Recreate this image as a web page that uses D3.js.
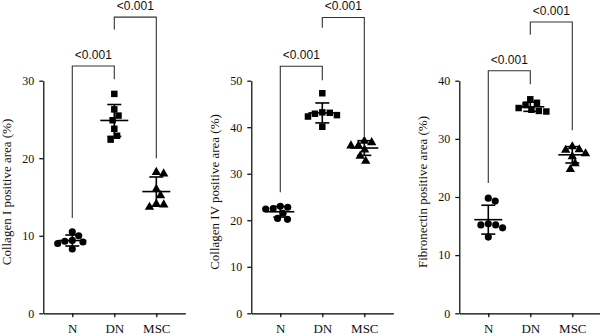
<!DOCTYPE html>
<html><head><meta charset="utf-8">
<script src="https://cdn.jsdelivr.net/npm/d3@7"></script>
<style>
html,body{margin:0;padding:0;background:#fff;}
svg{display:block;}
</style>
</head><body>
<svg id="chart" width="600" height="335"></svg>
<script>
// ---- data ----
const categories = ["N", "DN", "MSC"];
const shapes = ["circle", "square", "triangle"];

const yLabels = ["Collagen I positive area (%)", "Collagen IV positive area (%)", "Fibronectin positive area (%)"];
const yMaxes = [30, 50, 40];
const yTicks1 = [0, 10, 20, 30];
const yTicks2 = [0, 10, 20, 30, 40, 50];
const yTicks3 = [0, 10, 20, 30, 40];

const collagenI_N   = [10.0, 10.5, 9.2, 9.4, 9.0, 9.3, 8.3];
const collagenI_DN  = [28.3, 26.3, 25.5, 24.9, 23.8, 22.9, 22.4];
const collagenI_MSC = [18.1, 18.3, 16.1, 15.3, 13.8, 14.2, 14.1];

const collagenIV_N   = [23.0, 22.8, 22.4, 21.5, 20.2, 20.4, 22.5];
const collagenIV_DN  = [47.3, 43.1, 42.9, 42.3, 43.2, 40.1, 42.6];
const collagenIV_MSC = [36.2, 37.2, 36.9, 36.2, 35.3, 34.0, 32.9];

const fibronectin_N   = [19.3, 19.8, 15.4, 15.2, 15.2, 14.7, 13.1];
const fibronectin_DN  = [36.8, 36.2, 35.8, 35.0, 34.8, 34.7, 35.3];
const fibronectin_MSC = [28.8, 28.2, 28.3, 27.6, 27.1, 25.9, 24.9];

// significance brackets: [fromCategory, toCategory, top, leftLegEnd, rightLegEnd, label]
const brackets1 = [["N", "DN", 31.9, 12.3, 30.2, "<0.001"], ["DN", "MSC", 38.2, 36.6, 20.0, "<0.001"]];
const brackets2 = [["N", "DN", 53.1, 26.0, 50.1, "<0.001"], ["DN", "MSC", 63.6, 61.4, 38.1, "<0.001"]];
const brackets3 = [["N", "DN", 41.7, 22.4, 39.4, "<0.001"], ["DN", "MSC", 50.1, 47.9, 31.5, "<0.001"]];

const panels = [
  {label: yLabels[0], max: yMaxes[0], ticks: yTicks1, groups: [collagenI_N, collagenI_DN, collagenI_MSC], brackets: brackets1},
  {label: yLabels[1], max: yMaxes[1], ticks: yTicks2, groups: [collagenIV_N, collagenIV_DN, collagenIV_MSC], brackets: brackets2},
  {label: yLabels[2], max: yMaxes[2], ticks: yTicks3, groups: [fibronectin_N, fibronectin_DN, fibronectin_MSC], brackets: brackets3}
];

// ---- layout ----
const svg = d3.select("#chart");
const panelLeft0 = 43.3, panelStep = 208;
const plotTop = 80.7, plotBottom = 313.3, xAxisLen = 142;
const serif = "'Liberation Serif', 'Times New Roman', serif";
const sans = "'Liberation Sans', Arial, sans-serif";

const symbolTypes = {circle: d3.symbolCircle, square: d3.symbolSquare, triangle: d3.symbolTriangle};
const symbolSizes = {circle: 40, square: 42, triangle: 38};

function swarm(values, y, d) {
  const pts = values.map(v => ({v, y: y(v), x: 0})).sort((a, b) => a.y - b.y);
  const placed = [];
  pts.forEach(p => {
    const cands = [0];
    placed.forEach(q => {
      const dy = p.y - q.y;
      if (Math.abs(dy) < d) {
        const dx = Math.sqrt(d * d - dy * dy);
        cands.push(q.x + dx, q.x - dx);
      }
    });
    const ok = cands.filter(c => placed.every(q => Math.hypot(c - q.x, p.y - q.y) >= d - 1e-6));
    ok.sort((a, b) => Math.abs(a) - Math.abs(b) || b - a);
    p.x = ok[0];
    placed.push(p);
  });
  return pts;
}

panels.forEach((pn, i) => {
  const left = panelLeft0 + i * panelStep;
  const g = svg.append("g").attr("transform", `translate(${left},0)`);

  const y = d3.scaleLinear().domain([0, pn.max]).range([plotBottom, plotTop]);
  const x = d3.scalePoint().domain(categories).range([0, xAxisLen]).padding(0.69);

  // y axis
  const ya = g.append("g").call(d3.axisLeft(y).tickValues(pn.ticks).tickSize(4).tickSizeOuter(0).tickPadding(5));
  ya.select(".domain").attr("stroke", "#000").attr("stroke-width", 1.2);
  ya.selectAll(".tick line").attr("stroke", "#000").attr("stroke-width", 1.2);
  ya.selectAll(".tick text").attr("font-family", serif).attr("font-size", 12).attr("fill", "#111");

  // x axis
  const xa = g.append("g").attr("transform", `translate(0,${plotBottom})`)
    .call(d3.axisBottom(x).tickSize(4).tickSizeOuter(0).tickPadding(6));
  xa.select(".domain").attr("stroke", "#000").attr("stroke-width", 1.2);
  xa.selectAll(".tick line").attr("stroke", "#000").attr("stroke-width", 1.2);
  xa.selectAll(".tick text").attr("font-family", serif).attr("font-size", 13).attr("fill", "#111")
    .attr("dy", null).attr("y", 20);

  // y label
  g.append("text")
    .attr("transform", `translate(-32.3,${(plotTop + plotBottom) / 2 - 5}) rotate(-90)`)
    .attr("text-anchor", "middle")
    .attr("font-family", serif).attr("font-size", 13).attr("fill", "#111")
    .text(pn.label);

  // points + mean/SD
  pn.groups.forEach((vals, k) => {
    const cx = x(categories[k]);
    const pts = swarm(vals, y, 7.5);
    const sym = d3.symbol().type(symbolTypes[shapes[k]]).size(symbolSizes[shapes[k]]);
    g.append("g").selectAll("path").data(pts).join("path")
      .attr("d", sym)
      .attr("transform", p => `translate(${cx + p.x},${p.y + (shapes[k] === "triangle" ? 0.8 : 0)})`)
      .attr("fill", "#000");

    const m = d3.mean(vals), sd = d3.deviation(vals);
    const eg = g.append("g").attr("stroke", "#000").attr("stroke-width", 1.6).attr("fill", "none");
    eg.append("line").attr("x1", cx).attr("x2", cx).attr("y1", y(m + sd)).attr("y2", y(m - sd));
    eg.append("line").attr("x1", cx - 14).attr("x2", cx + 14).attr("y1", y(m)).attr("y2", y(m));
    [m + sd, m - sd].forEach(v => {
      eg.append("line").attr("x1", cx - 7).attr("x2", cx + 7).attr("y1", y(v)).attr("y2", y(v));
    });
  });

  // brackets
  pn.brackets.forEach(b => {
    const x1 = x(b[0]), x2 = x(b[1]);
    g.append("path")
      .attr("d", d3.line()([[x1, y(b[3])], [x1, y(b[2])], [x2, y(b[2])], [x2, y(b[4])]]))
      .attr("fill", "none").attr("stroke", "#333").attr("stroke-width", 1.1);
    g.append("text")
      .attr("x", (x1 + x2) / 2).attr("y", y(b[2]) - 7)
      .attr("text-anchor", "middle")
      .attr("font-family", sans).attr("font-size", 12).attr("fill", "#111")
      .text(b[5]);
  });
});
</script>
</body></html>
